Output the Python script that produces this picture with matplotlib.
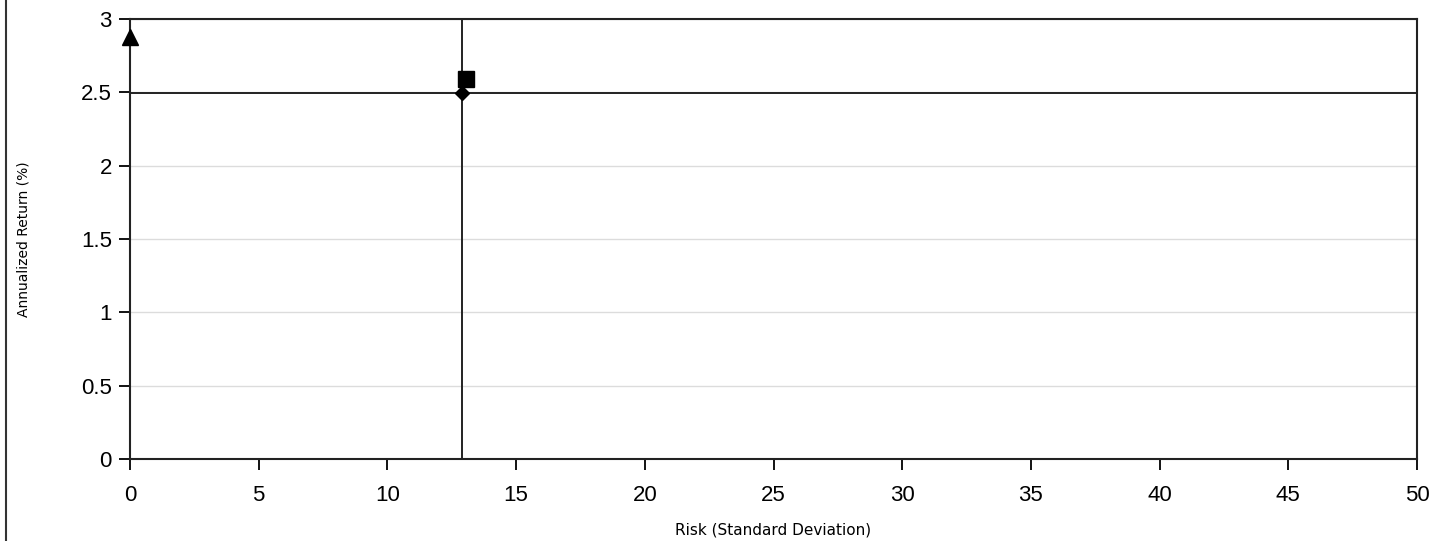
import matplotlib.pyplot as plt
from matplotlib.lines import Line2D

# risk / return points
risk = [0.0, 13.05, 12.9]
ret = [2.88, 2.59, 2.495]
markers = ['^', 's', 'D']
sizes = [11, 11, 7]

# reference lines (benchmark risk and return)
ref_risk = 12.9
ref_ret = 2.495

xticks = list(range(0, 55, 5))
yticks = [0, 0.5, 1, 1.5, 2, 2.5, 3]
ytick_labels = ['0', '0.5', '1', '1.5', '2', '2.5', '3']

plt.rcParams['font.family'] = ['Liberation Sans', 'DejaVu Sans']

fig = plt.figure(figsize=(14.48, 5.41), dpi=100)
ax = fig.add_axes([130 / 1448, 1 - 459 / 541, (1417 - 130) / 1448, (459 - 19) / 541])

ax.set_xlim(0, 50)
ax.set_ylim(0, 3)
ax.set_xticks(xticks)
ax.set_yticks(yticks)
ax.set_yticklabels(ytick_labels)
ax.tick_params(direction='out', length=8, width=1.3, labelsize=16, colors='black')
ax.tick_params(axis='x', pad=11)
ax.tick_params(axis='y', pad=5)

ax.yaxis.grid(True, color='#dcdcdc', linewidth=1)
ax.set_axisbelow(True)
for s in ax.spines.values():
    s.set_linewidth(1.5)
    s.set_color('#222222')

ax.axvline(ref_risk, color='#222222', linewidth=1.4, zorder=2)
ax.axhline(ref_ret, color='#222222', linewidth=1.4, zorder=2)

for x, y, m, ms in zip(risk, ret, markers, sizes):
    ax.plot(x, y, marker=m, markersize=ms, color='black', linestyle='none',
            clip_on=False, zorder=3)

ax.set_xlabel('Risk (Standard Deviation)', fontsize=11, family=['DejaVu Sans'])
ax.set_ylabel('Annualized Return (%)', fontsize=10, family=['DejaVu Sans'])
ax.yaxis.set_label_coords(-0.077, 0.5)
ax.xaxis.set_label_coords(0.5, -0.145)

# left border of the original frame
fig.add_artist(Line2D([6 / 1448, 6 / 1448], [0, 1], color='#333333', linewidth=1.5))

fig.savefig('out.png', dpi=100)
